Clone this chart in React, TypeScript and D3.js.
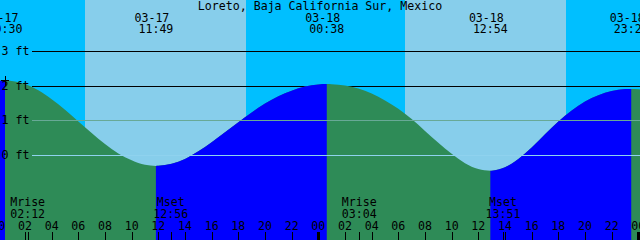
import React from "react";
import * as d3 from "d3";

const W = 640;
const H = 240;
const FONT = "'DejaVu Sans Mono', monospace";
const FS = 11.6;

const title = "Loreto, Baja California Sur, Mexico";

// hours since 03-17 00:00, tide height in feet
const tideHours = [
  0, 0.5, 1, 2, 3, 4, 5, 6, 7, 8, 9, 10, 11, 11.817,
  12, 13, 14, 15, 16, 17, 18, 19, 20, 21, 22, 23, 24, 24.633,
  25, 26, 27, 28, 29, 30, 31, 32, 33, 34, 35, 36, 36.9,
  37, 38, 39, 40, 41, 42, 43, 44, 45, 46, 47, 47.467, 48, 48.3,
];
const tideFeet = [
  2.15, 2.16, 2.15, 2.06, 1.88, 1.62, 1.32, 0.98, 0.65, 0.33, 0.06, -0.14, -0.27, -0.3,
  -0.298, -0.24, -0.1, 0.12, 0.38, 0.67, 0.96, 1.24, 1.5, 1.71, 1.87, 1.99, 2.05, 2.06,
  2.055, 2.02, 1.93, 1.79, 1.59, 1.35, 1.05, 0.71, 0.37, 0.05, -0.22, -0.39, -0.44,
  -0.438, -0.34, -0.1, 0.23, 0.61, 0.98, 1.3, 1.56, 1.74, 1.86, 1.915, 1.92, 1.91, 1.89,
];

const extremeHours = [0.5, 11.817, 24.633, 36.9, 47.467];
const extremeKinds = ["H", "L", "H", "L", "H"];
const extremeDates = ["03-17", "03-17", "03-18", "03-18", "03-18"];
const extremeTimes = ["00:30", "11:49", "00:38", "12:54", "23:28"];

const sunriseHours = [6.5, 30.5];
const sunsetHours = [18.575, 42.575];

const moonHours = [2.2, 12.933, 27.067, 37.85];
const moonNames = ["Mrise", "Mset", "Mrise", "Mset"];
const moonTimes = ["02:12", "12:56", "03:04", "13:51"];

const hourTickHours = [0, 2, 4, 6, 8, 10, 12, 14, 16, 18, 20, 22, 24, 26, 28, 30, 32, 34, 36, 38, 40, 42, 44, 46, 48];
const hourTickLabels = ["00", "02", "04", "06", "08", "10", "12", "14", "16", "18", "20", "22", "00", "02", "04", "06", "08", "10", "12", "14", "16", "18", "20", "22", "00"];
const midnightHours = [0, 24, 48];

const depthFeet = [3, 2, 1, 0];
const depthLabels = ["3 ft", "2 ft", "1 ft", "0 ft"];
const mslFeet = 1;
const datumFeet = 0;

const C = {
  night: "#00bfff",
  day: "#87ceeb",
  ebb: "#2e8b57",
  flood: "#0000ff",
  msl: "#68a996",
  datum: "#8fd2ee",
  fg: "#000000",
};

export default function App() {
  const x = d3.scaleLinear().domain([0.125, 48.125]).range([0, W]);
  const y = d3.scaleLinear().domain([0, 3]).range([155.5, 51.5]);
  const [t0, t1] = x.domain();

  const pts = tideHours.map((t, i) => ({ t, h: tideFeet[i] }));
  const area = d3
    .area<{ t: number; h: number }>()
    .x((d) => x(d.t))
    .y0(H)
    .y1((d) => y(d.h))
    .curve(d3.curveMonotoneX);
  const areaPath = area(pts) || "";

  // day/night bands
  const bounds = [t0, sunriseHours[0], sunsetHours[0], sunriseHours[1], sunsetHours[1], t1];
  const bands = bounds.slice(0, -1).map((b, i) => ({
    a: b,
    b: bounds[i + 1],
    c: i % 2 === 0 ? C.night : C.day,
  }));

  // rising (flood) intervals
  const ext = [t0 - 1, ...extremeHours, t1 + 1];
  const kinds = ["L", ...extremeKinds, extremeKinds[extremeKinds.length - 1] === "H" ? "L" : "H"];
  const rising: [number, number][] = [];
  for (let i = 0; i < ext.length - 1; i++) {
    if (kinds[i + 1] === "H") rising.push([ext[i], ext[i + 1]]);
  }

  const lineY = (f: number) => Math.floor(y(f)) + 0.5;
  const lineX0 = 32;

  const hx = x(extremeHours[0]);
  const hy = y(2.16);

  return (
    <svg
      width={W}
      height={H}
      style={{ position: "absolute", left: 0, top: 0, display: "block" }}
      fontFamily={FONT}
      fontSize={FS}
    >
      <defs>
        <clipPath id="floodClip">
          {rising.map(([a, b], i) => (
            <rect key={i} x={x(a)} y={0} width={x(b) - x(a)} height={H} />
          ))}
        </clipPath>
      </defs>
      {bands.map((d, i) => (
        <rect key={i} x={x(d.a)} y={0} width={x(d.b) - x(d.a)} height={H} fill={d.c} shapeRendering="crispEdges" />
      ))}
      {depthFeet.map((f, i) => (
        <line key={i} x1={lineX0} x2={W} y1={lineY(f)} y2={lineY(f)} stroke={C.fg} strokeWidth={1} shapeRendering="crispEdges" />
      ))}
      <path d={areaPath} fill={C.ebb} />
      <path d={areaPath} fill={C.flood} clipPath="url(#floodClip)" />
      <line x1={lineX0} x2={W} y1={lineY(mslFeet)} y2={lineY(mslFeet)} stroke={C.msl} strokeWidth={1} shapeRendering="crispEdges" />
      <line x1={lineX0} x2={W} y1={lineY(datumFeet)} y2={lineY(datumFeet)} stroke={C.datum} strokeWidth={1} shapeRendering="crispEdges" />
      {depthFeet.map((f, i) => (
        <text key={i} x={1.5} y={lineY(f) + 3.5} fill={C.fg}>
          {depthLabels[i]}
        </text>
      ))}
      <g stroke={C.fg} strokeWidth={1} shapeRendering="crispEdges">
        <line x1={hx - 4} x2={hx + 4} y1={Math.floor(hy) + 0.5} y2={Math.floor(hy) + 0.5} />
        <line x1={Math.floor(hx) + 0.5} x2={Math.floor(hx) + 0.5} y1={hy - 5} y2={hy + 5} />
      </g>
      <text x={320} y={10} textAnchor="middle" fill={C.fg}>
        {title}
      </text>
      {extremeHours.map((t, i) => (
        <g key={i}>
          <text x={x(t) - 4} y={21.5} textAnchor="middle" fill={C.fg}>
            {extremeDates[i]}
          </text>
          <text x={x(t)} y={33} textAnchor="middle" fill={C.fg}>
            {extremeTimes[i]}
          </text>
        </g>
      ))}
      {moonHours.map((t, i) => (
        <g key={i}>
          <text x={x(t)} y={206} textAnchor="middle" fill={C.fg}>
            {moonNames[i]}
          </text>
          <text x={x(t)} y={217.5} textAnchor="middle" fill={C.fg}>
            {moonTimes[i]}
          </text>
          <line x1={Math.round(x(t)) + 0.5} x2={Math.round(x(t)) + 0.5} y1={232} y2={H} stroke={C.fg} shapeRendering="crispEdges" />
        </g>
      ))}
      {hourTickHours.map((t, i) => (
        <g key={i}>
          <text x={x(t)} y={229.5} textAnchor="middle" fill={C.fg}>
            {hourTickLabels[i]}
          </text>
          <line x1={Math.round(x(t)) + 0.5} x2={Math.round(x(t)) + 0.5} y1={232} y2={H} stroke={C.fg} shapeRendering="crispEdges" />
        </g>
      ))}
      {midnightHours.map((t, i) => (
        <rect key={i} x={x(t) - 1.5} y={232} width={3} height={H - 232} fill={C.fg} shapeRendering="crispEdges" />
      ))}
    </svg>
  );
}
